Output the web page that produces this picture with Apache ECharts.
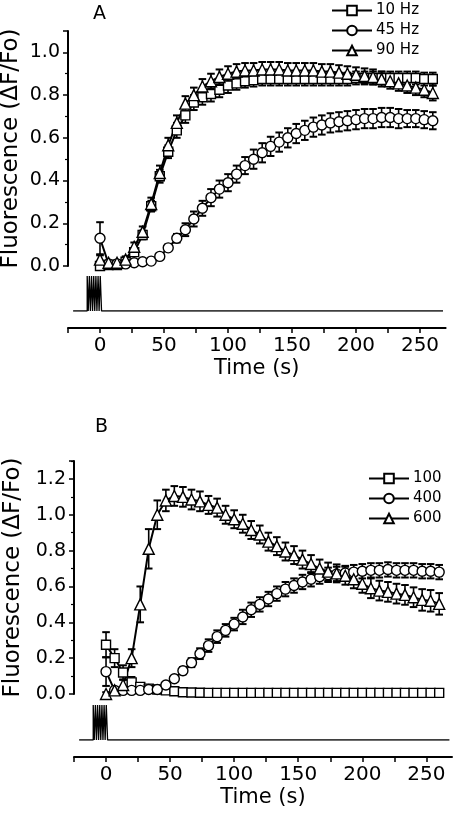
<!DOCTYPE html>
<html>
<head>
<meta charset="utf-8">
<script src="https://cdn.jsdelivr.net/npm/echarts@6/dist/echarts.min.js"></script>
<style>html,body{margin:0;padding:0;background:#fff;}#c{width:455px;height:816px;}</style>
</head>
<body>
<div id="c"></div>
<script>
// ---------- Data ----------
const timeS = [0, 6.7, 13.3, 20, 26.7, 33.3, 40, 46.7, 53.3, 60, 66.7, 73.3, 80, 86.7, 93.3, 100,
  106.7, 113.3, 120, 126.7, 133.3, 140, 146.7, 153.3, 160, 166.7, 173.3, 180, 186.7, 193.3, 200,
  206.7, 213.3, 220, 226.7, 233.3, 240, 246.7, 253.3, 260];

const xTickValues = [-25, 0, 25, 50, 75, 100, 125, 150, 175, 200, 225, 250];
const xLabelValues = [0, 50, 100, 150, 200, 250];
const yLabelsA = [0, 0.2, 0.4, 0.6, 0.8, 1.0];
const yLabelsB = [0, 0.2, 0.4, 0.6, 0.8, 1.0, 1.2];

// Panel A
const namesA = ['10 Hz', '45 Hz', '90 Hz'];
const hz10 = [0.0, 0.005, 0.005, 0.02, 0.065, 0.145, 0.28, 0.42, 0.535, 0.635, 0.705, 0.765, 0.79, 0.805, 0.825, 0.845,
  0.855, 0.865, 0.87, 0.875, 0.875, 0.875, 0.875, 0.875, 0.875, 0.875, 0.875, 0.875, 0.875, 0.875, 0.88,
  0.88, 0.88, 0.88, 0.88, 0.88, 0.88, 0.88, 0.875, 0.875];
const hz10Err = [0.01, 0.01, 0.01, 0.01, 0.015, 0.02, 0.025, 0.03, 0.03, 0.035, 0.035, 0.035, 0.035, 0.035, 0.035, 0.035,
  0.03, 0.03, 0.03, 0.03, 0.03, 0.03, 0.03, 0.03, 0.03, 0.03, 0.03, 0.03, 0.03, 0.03, 0.03,
  0.03, 0.03, 0.03, 0.03, 0.03, 0.03, 0.03, 0.03, 0.03];
const hz45 = [0.13, 0.01, 0.01, 0.01, 0.015, 0.02, 0.023, 0.045, 0.085, 0.13, 0.17, 0.22, 0.27, 0.32, 0.36, 0.39,
  0.43, 0.47, 0.50, 0.53, 0.56, 0.58, 0.60, 0.62, 0.635, 0.65, 0.66, 0.67, 0.675, 0.68, 0.685,
  0.69, 0.69, 0.695, 0.695, 0.69, 0.69, 0.69, 0.685, 0.68];
const hz45Err = [0.075, 0.01, 0.01, 0.01, 0.01, 0.01, 0.01, 0.012, 0.015, 0.02, 0.03, 0.035, 0.035, 0.04, 0.04, 0.04,
  0.04, 0.04, 0.045, 0.045, 0.045, 0.045, 0.045, 0.045, 0.045, 0.045, 0.045, 0.045, 0.045, 0.045, 0.045,
  0.045, 0.045, 0.045, 0.045, 0.045, 0.04, 0.04, 0.04, 0.04];
const hz90 = [0.03, 0.015, 0.015, 0.03, 0.09, 0.16, 0.29, 0.435, 0.565, 0.67, 0.76, 0.80, 0.84, 0.865, 0.885, 0.90,
  0.91, 0.915, 0.915, 0.92, 0.92, 0.92, 0.915, 0.915, 0.915, 0.915, 0.91, 0.91, 0.905, 0.90, 0.895,
  0.89, 0.885, 0.875, 0.865, 0.855, 0.845, 0.835, 0.825, 0.81];
const hz90Err = [0.02, 0.01, 0.01, 0.015, 0.02, 0.025, 0.03, 0.035, 0.035, 0.035, 0.035, 0.035, 0.035, 0.035, 0.035, 0.035,
  0.035, 0.035, 0.035, 0.035, 0.035, 0.035, 0.035, 0.035, 0.035, 0.035, 0.035, 0.035, 0.035, 0.035, 0.035,
  0.035, 0.035, 0.035, 0.035, 0.035, 0.035, 0.035, 0.035, 0.035];

// Panel B
const namesB = ['100', '400', '600'];
const p100 = [0.275, 0.20, 0.12, 0.065, 0.04, 0.03, 0.025, 0.02, 0.015, 0.01, 0.008, 0.007, 0.006, 0.006, 0.006, 0.006,
  0.006, 0.006, 0.006, 0.006, 0.006, 0.006, 0.006, 0.006, 0.006, 0.006, 0.006, 0.006, 0.006, 0.006, 0.006,
  0.006, 0.006, 0.006, 0.006, 0.006, 0.006, 0.006, 0.006, 0.006];
const p100Err = [0.07, 0.05, 0.04, 0.03, 0.02, 0.015, 0.012, 0.012, 0.012, 0.012, 0.012, 0.012, 0.012, 0.012, 0.012, 0.012,
  0.012, 0.012, 0.012, 0.012, 0.012, 0.012, 0.012, 0.012, 0.012, 0.012, 0.012, 0.012, 0.012, 0.012, 0.012,
  0.012, 0.012, 0.012, 0.012, 0.012, 0.012, 0.012, 0.012, 0.012];
const p400 = [0.125, 0.02, 0.02, 0.02, 0.02, 0.025, 0.025, 0.05, 0.085, 0.13, 0.175, 0.225, 0.27, 0.32, 0.355, 0.39,
  0.43, 0.47, 0.50, 0.53, 0.56, 0.585, 0.605, 0.625, 0.64, 0.655, 0.665, 0.67, 0.675, 0.68, 0.685,
  0.69, 0.69, 0.695, 0.69, 0.69, 0.69, 0.685, 0.685, 0.68];
const p400Err = [0.08, 0.01, 0.01, 0.01, 0.01, 0.01, 0.01, 0.012, 0.015, 0.02, 0.025, 0.03, 0.035, 0.035, 0.035, 0.035,
  0.04, 0.04, 0.04, 0.04, 0.04, 0.04, 0.04, 0.04, 0.04, 0.04, 0.04, 0.04, 0.04, 0.04, 0.04,
  0.04, 0.04, 0.04, 0.04, 0.04, 0.04, 0.04, 0.04, 0.04];
const p600 = [0.0, 0.02, 0.05, 0.20, 0.50, 0.81, 1.0, 1.08, 1.105, 1.10, 1.085, 1.075, 1.055, 1.04, 1.0, 0.975,
  0.95, 0.915, 0.89, 0.85, 0.825, 0.795, 0.775, 0.75, 0.725, 0.70, 0.683, 0.673, 0.66, 0.64, 0.615,
  0.59, 0.577, 0.57, 0.56, 0.553, 0.54, 0.525, 0.52, 0.503];
const p600Err = [0.01, 0.02, 0.03, 0.05, 0.1, 0.11, 0.08, 0.06, 0.055, 0.055, 0.055, 0.055, 0.05, 0.05, 0.05, 0.05,
  0.05, 0.05, 0.05, 0.05, 0.05, 0.05, 0.05, 0.05, 0.05, 0.05, 0.05, 0.05, 0.05, 0.05, 0.05,
  0.055, 0.055, 0.055, 0.055, 0.055, 0.055, 0.06, 0.06, 0.06];

// Stimulus trace (pulse train before t = 0)
const stimStart = -21;
const stimEnd = 268;
const pulseOn = [-10, -8.3, -6.6, -4.9, -3.2, -1.5, 0.2];
const pulseOff = [-9.2, -7.5, -5.8, -4.1, -2.4, -0.7, 1.2];

// ---------- Build ----------
const FONT = 'DejaVu Sans';
function pairs(t, v) { return t.map((x, i) => [x, v[i]]); }
function triples(t, v, e) { return t.map((x, i) => [x, v[i], e[i]]); }
function stimData() {
  const d = [[stimStart, 0]];
  pulseOn.forEach((on, i) => { d.push([on, 0], [on, 1], [pulseOff[i], 1], [pulseOff[i], 0]); });
  d.push([stimEnd, 0]);
  return d;
}

function errSeries(t, v, e, xi, yi) {
  return {
    type: 'custom', xAxisIndex: xi, yAxisIndex: yi, z: 1, silent: true,
    data: triples(t, v, e),
    encode: { x: 0, y: 1 },
    renderItem: function (params, api) {
      const x = api.value(0), y = api.value(1), err = api.value(2);
      const top = api.coord([x, y + err]);
      const bot = api.coord([x, y - err]);
      const cw = 3.8;
      return {
        type: 'group', children: [
          { type: 'line', shape: { x1: top[0], y1: top[1], x2: bot[0], y2: bot[1] }, style: { stroke: '#000', lineWidth: 1.6 } },
          { type: 'line', shape: { x1: top[0] - cw, y1: top[1], x2: top[0] + cw, y2: top[1] }, style: { stroke: '#000', lineWidth: 2 } },
          { type: 'line', shape: { x1: bot[0] - cw, y1: bot[1], x2: bot[0] + cw, y2: bot[1] }, style: { stroke: '#000', lineWidth: 2 } }
        ]
      };
    }
  };
}
function lineSeries(name, t, v, symbol, size, xi, yi) {
  return {
    type: 'line', name: name, xAxisIndex: xi, yAxisIndex: yi, z: 3,
    data: pairs(t, v), symbol: symbol, symbolSize: size, showSymbol: true,
    lineStyle: { color: '#000', width: 2 },
    itemStyle: { color: '#fff', borderColor: '#000', borderWidth: 1.4 },
    emphasis: { disabled: true }
  };
}
function stimSeries(xi, yi) {
  return {
    type: 'line', xAxisIndex: xi, yAxisIndex: yi, data: stimData(), symbol: 'none',
    lineStyle: { color: '#000', width: 1.3 }, silent: true
  };
}

const xMain = gi => ({ type: 'value', gridIndex: gi, min: -25, max: 270, show: false });
const xStim = gi => ({
  type: 'value', gridIndex: gi, min: -25, max: 270, interval: 25, offset: 17,
  axisLine: { show: true, onZero: false, lineStyle: { color: '#000', width: 2 } },
  axisTick: { show: true, length: 5, lineStyle: { color: '#000', width: 1.5 }, customValues: xTickValues },
  axisLabel: { color: '#000', fontFamily: FONT, fontSize: 20, margin: 8, customValues: xLabelValues,
    formatter: v => (xLabelValues.indexOf(v) >= 0 ? String(v) : '') },
  splitLine: { show: false },
  name: 'Time (s)', nameLocation: 'middle', nameGap: 30, nameMoveOverlap: false,
  nameTextStyle: { color: '#000', fontFamily: FONT, fontSize: 21 }
});
const yMain = (gi, max, labels, gap) => ({
  type: 'value', gridIndex: gi, min: 0, max: max, interval: 0.2,
  axisLine: { show: true, onZero: false, lineStyle: { color: '#000', width: 2 } },
  axisTick: { show: true, length: 5, lineStyle: { color: '#000', width: 1.5 } },
  minorTick: { show: true, splitNumber: 2, length: 3, lineStyle: { color: '#000', width: 1.2 } },
  axisLabel: { color: '#000', fontFamily: FONT, fontSize: 19, margin: 8, customValues: labels,
    formatter: v => (Math.round(v * 10) % 2 === 0 ? v.toFixed(1) : '') },
  splitLine: { show: false },
  name: 'Fluorescence (\u0394F/Fo)', nameLocation: 'middle', nameGap: gap, nameRotate: 90,
  nameMoveOverlap: false,
  nameTextStyle: { color: '#000', fontFamily: FONT, fontSize: 23 }
});
const yStim = gi => ({ type: 'value', gridIndex: gi, min: 0, max: 1, show: false });

const legendCommon = {
  orient: 'vertical', itemWidth: 40, itemHeight: 12, itemGap: 5, padding: 0,
  textStyle: { color: '#000', fontFamily: FONT, fontSize: 15, padding: [0, 0, 0, -1] },
  selectedMode: false
};

const gridCommon = { outerBoundsMode: 'none', containLabel: false };

const option = {
  animation: false,
  backgroundColor: '#fff',
  graphic: [
    { type: 'text', left: 93, top: 5, style: { text: 'A', fontFamily: FONT, fontSize: 19, fill: '#000' } },
    { type: 'text', left: 95, top: 418, style: { text: 'B', fontFamily: FONT, fontSize: 19, fill: '#000' } }
  ],
  legend: [
    Object.assign({ data: namesA, left: 331, top: 3 }, legendCommon),
    Object.assign({ data: namesB, left: 368, top: 471 }, legendCommon)
  ],
  grid: [
    Object.assign({ left: 68, right: 9.4, top: 31, height: 235 }, gridCommon),
    Object.assign({ left: 68, right: 9.4, top: 276, height: 35 }, gridCommon),
    Object.assign({ left: 74, right: 3, top: 461, height: 233 }, gridCommon),
    Object.assign({ left: 74, right: 3, top: 705, height: 35 }, gridCommon)
  ],
  xAxis: [xMain(0), xStim(1), xMain(2), xStim(3)],
  yAxis: [yMain(0, 1.1, yLabelsA, 45), yStim(1), yMain(2, 1.3, yLabelsB, 49), yStim(3)],
  series: [
    errSeries(timeS, hz10, hz10Err, 0, 0),
    errSeries(timeS, hz45, hz45Err, 0, 0),
    errSeries(timeS, hz90, hz90Err, 0, 0),
    lineSeries(namesA[0], timeS, hz10, 'rect', 9, 0, 0),
    lineSeries(namesA[1], timeS, hz45, 'circle', 10, 0, 0),
    lineSeries(namesA[2], timeS, hz90, 'triangle', 11, 0, 0),
    stimSeries(1, 1),
    errSeries(timeS, p100, p100Err, 2, 2),
    errSeries(timeS, p400, p400Err, 2, 2),
    errSeries(timeS, p600, p600Err, 2, 2),
    lineSeries(namesB[0], timeS, p100, 'rect', 9, 2, 2),
    lineSeries(namesB[1], timeS, p400, 'circle', 10, 2, 2),
    lineSeries(namesB[2], timeS, p600, 'triangle', 11, 2, 2),
    stimSeries(3, 3)
  ]
};

const chart = echarts.init(document.getElementById('c'), null, { renderer: 'canvas' });
chart.setOption(option);
</script>
</body>
</html>
